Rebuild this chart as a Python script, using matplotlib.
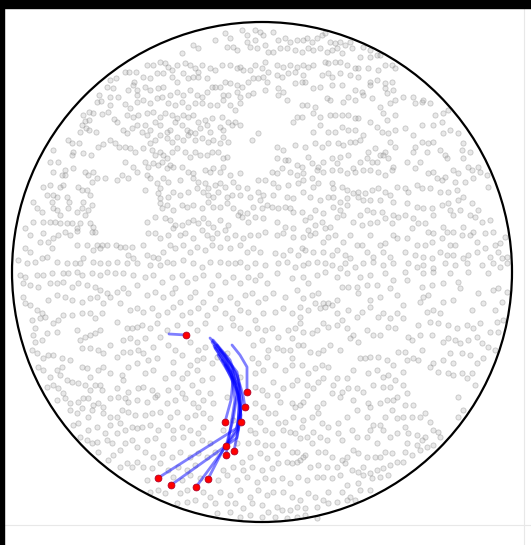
import matplotlib
matplotlib.use("Agg")
import matplotlib.pyplot as plt
from matplotlib.patches import Circle, Rectangle
import numpy as np

# %% Data (image pixel units, y grows downward)
circle_center = (262, 272)
circle_radius = 250

# background particles, read tile by tile
bg_upper_left = [
    (125,72),(129,72),(136,72),(110,80),(116,78),(134,82),(107,87),(113,88),(133,85),(137,90),
    (99,95),(110,97),(118,97),(128,90),(137,95),(97,102),(101,101),(110,105),(125,104),(130,108),
    (137,102),(89,112),(93,113),(102,114),(108,112),(114,119),(117,122),(127,115),(133,117),(138,115),
    (83,115),(85,121),(82,125),(89,120),(80,132),(86,128),(89,130),(96,132),(123,130),(127,133),
    (132,128),(137,125),(68,140),(72,143),(79,143),(98,147),(103,144),(110,140),(115,143),(119,147),
    (125,147),(130,148),(135,152),(73,152),(72,155),(83,153),(91,155),(53,150),(58,162),(50,162),
    (65,170),(62,175),(65,175),(53,172),(73,168),(85,172),(88,175),(93,172),(97,178),(92,182),
    (105,178),(117,180),(122,175),(128,178),(137,172),(50,185),(43,187),(47,195),(53,195),(60,187),
    (63,185),(57,197),(52,202),(67,197),(69,202),(78,187),(82,190),(87,190),(90,195),(83,202),
    (82,208),(88,210),(92,205),(77,212),(85,215),(53,208),(57,210),(60,215),(68,208),(37,208),
    (42,212),(33,222),(43,222),(50,222),(55,222),(60,223),(67,223),(72,223),(77,228),(80,223),
    (77,231),(90,223),(93,227),(92,232),(95,232),(43,233),(40,242),(48,242),(53,238),(58,235),
    (65,232),(70,235),(77,245),(87,245),(97,245),(102,245),(107,245),(116,245),(120,247),(125,247),
    (132,247),(128,255),(133,258),(93,250),(100,248),(30,252),(35,262),(42,258),(47,257),(52,248),
    (57,262),(67,263),(75,263),(80,263),(83,258),(93,262),(100,263),(108,263),(117,262),(127,263),
    (137,263),(27,263),(18,260),(25,248),(125,162),(133,167),(25,228),(33,202),(30,235),
]
bg_upper_mid = [
    (215,40),(225,33),(230,38),(242,30),(247,35),(255,30),(260,32),(263,35),(227,47),(233,47),
    (237,50),(247,42),(250,47),(255,40),(257,48),(265,45),(268,52),(193,45),(198,48),(182,53),
    (147,65),(153,65),(160,62),(165,63),(168,67),(172,70),(177,65),(185,63),(190,65),(195,68),
    (198,72),(202,65),(210,68),(215,70),(222,65),(230,65),(237,68),(240,67),(243,70),(250,70),
    (255,65),(262,68),(265,62),(268,72),(143,77),(150,78),(157,73),(163,73),(172,77),(177,82),
    (183,73),(188,78),(193,77),(198,77),(207,78),(212,87),(215,87),(220,87),(225,82),(230,83),
    (237,85),(242,87),(248,82),(253,78),(258,78),(263,77),(267,82),(145,87),(150,90),(158,88),
    (163,87),(170,95),(177,92),(183,95),(190,90),(197,95),(202,97),(207,92),(223,95),(228,95),
    (237,92),(240,97),(248,95),(253,93),(265,90),(143,100),(150,103),(157,98),(162,97),(168,103),
    (175,105),(182,102),(188,107),(195,103),(202,103),(210,105),(217,105),(223,100),(230,105),(235,110),
    (240,103),(147,113),(153,112),(160,117),(165,113),(172,115),(177,118),(183,115),(188,117),(193,115),
    (198,122),(205,120),(212,118),(222,117),(228,122),(235,122),(240,125),(145,125),(150,130),(155,122),
    (160,125),(167,132),(170,130),(175,122),(182,125),(187,130),(190,132),(195,133),(200,128),(207,125),
    (210,132),(220,127),(223,130),(232,125),(142,132),(147,135),(150,143),(155,140),(160,135),(167,138),
    (172,142),(177,137),(183,140),(188,135),(195,140),(202,138),(208,142),(213,140),(220,143),(223,137),
    (228,142),(258,133),(252,140),(143,148),(152,150),(155,155),(160,152),(163,155),(167,158),(172,152),
    (177,148),(185,152),(190,157),(195,152),(200,155),(207,155),(212,152),(218,152),(223,158),(227,157),
    (145,162),(148,167),(153,163),(158,165),(162,162),(167,168),(170,165),(173,167),(182,167),(188,172),
    (193,173),(205,170),(210,172),(213,168),(220,172),(223,167),(230,175),(240,173),(147,175),(150,178),
    (157,183),(160,188),(163,178),(168,182),(180,180),(193,178),(198,182),(205,183),(208,188),(215,185),
    (220,183),(225,187),(233,182),(238,187),(247,188),(258,180),(265,180),(145,190),(158,193),(160,198),
    (168,197),(173,192),(180,195),(188,192),(197,188),(203,192),(208,195),(213,197),(218,192),(227,197),
    (232,195),(240,195),(250,197),(258,192),(263,195),(260,200),(160,203),(162,208),(167,205),(173,210),
    (182,205),(187,207),(193,205),(202,208),(208,202),(213,207),(220,207),(227,203),(233,208),(240,212),
    (247,213),(253,207),(262,208),(267,205),(147,222),(155,217),(165,218),(170,220),(175,225),(182,225),
    (188,222),(193,220),(198,223),(203,218),(208,223),(213,227),(220,220),(228,225),(238,215),(242,217),
    (248,222),(255,217),(263,218),(148,233),(155,233),(160,238),(168,235),(173,228),(180,235),(185,233),
    (193,238),(202,230),(207,235),(212,238),(217,233),(225,230),(227,238),(235,235),(243,238),(250,235),
    (258,235),(265,232),(143,245),(147,255),(153,257),(158,258),(163,252),(170,245),(175,248),(183,245),
    (190,252),(197,247),(205,250),(212,245),(220,247),(230,248),(240,245),(247,252),(253,248),(260,252),
    (150,265),(160,265),(167,262),(173,263),(183,260),(193,263),(202,267),(210,262),(220,262),(228,263),
    (235,263),(240,262),(247,267),(255,263),(265,265),
]
bg_upper_right = [
    (273,32),(278,40),(285,38),(290,42),(297,40),(303,40),(307,38),(312,42),(317,38),(322,35),
    (325,33),(330,42),(335,43),(340,42),(345,45),(350,42),(363,47),(370,50),(377,55),(273,52),
    (280,48),(287,48),(295,50),(302,52),(308,48),(313,50),(320,48),(327,52),(332,50),(337,48),
    (342,53),(352,48),(360,57),(370,57),(380,55),(277,65),(283,67),(290,65),(297,67),(303,65),
    (308,67),(313,65),(325,62),(328,63),(335,62),(340,62),(347,65),(355,68),(358,68),(368,68),
    (378,70),(385,65),(392,65),(395,68),(277,75),(282,77),(288,73),(295,72),(303,75),(322,75),
    (328,73),(332,77),(340,73),(350,75),(358,77),(370,82),(377,80),(385,83),(392,82),(278,88),
    (283,92),(295,83),(302,82),(305,82),(313,88),(320,87),(332,85),(342,85),(355,90),(362,92),
    (370,85),(385,88),(387,93),(393,90),(278,95),(287,100),(302,105),(307,105),(315,107),(327,98),
    (330,100),(343,102),(348,97),(355,100),(363,95),(372,98),(380,107),(390,103),(395,100),(293,122),
    (297,117),(302,117),(313,113),(320,117),(330,115),(335,115),(342,115),(348,115),(355,118),(358,118),
    (370,122),(383,113),(387,120),(395,115),(313,132),(320,125),(328,132),(335,132),(342,127),(348,130),
    (355,130),(363,135),(377,127),(382,132),(388,133),(395,130),(277,147),(283,150),(295,145),(305,147),
    (315,143),(322,147),(328,143),(338,143),(343,145),(350,142),(355,142),(360,140),(368,152),(375,148),
    (380,155),(385,152),(390,142),(395,147),(277,158),(285,160),(288,160),(297,165),(302,167),(308,157),
    (312,163),(318,167),(323,162),(332,158),(337,163),(340,157),(348,155),(353,168),(360,162),(367,158),
    (372,162),(377,162),(383,155),(388,158),(393,167),(272,172),(277,173),(282,168),(290,172),(297,175),
    (303,173),(312,178),(317,170),(323,172),(332,170),(340,170),(347,173),(355,172),(363,170),(370,170),
    (378,172),(385,175),(392,170),(273,183),(278,187),(288,185),(298,183),(303,180),(313,187),(318,183),
    (332,183),(333,188),(342,187),(347,190),(353,193),(358,192),(365,193),(372,190),(378,188),(385,192),
    (390,195),(397,187),(273,195),(287,197),(293,198),(303,192),(310,197),(320,200),(328,197),(333,197),
    (340,202),(347,198),(358,197),(363,200),(370,200),(380,200),(393,202),(272,207),(278,208),(285,207),
    (290,208),(293,212),(302,212),(310,217),(315,210),(323,213),(333,207),(340,210),(347,205),(360,215),
    (367,210),(373,212),(382,212),(393,215),(398,217),(277,222),(285,227),(293,228),(305,220),(308,230),
    (315,225),(322,222),(325,228),(330,227),(337,217),(343,215),(353,222),(362,225),(370,223),(377,222),
    (385,218),(392,223),(277,235),(283,233),(293,237),(303,237),(310,235),(315,233),(323,242),(328,237),
    (335,235),(343,242),(350,235),(357,245),(362,245),(370,235),(380,245),(385,243),(393,235),(397,238),
    (275,253),(283,255),(290,250),(298,255),(302,248),(305,250),(313,252),(323,252),(332,255),(337,250),
    (345,255),(350,258),(367,252),(373,257),(383,252),(390,257),(278,263),(287,262),(295,267),(303,265),
    (308,263),(317,262),(325,263),(332,265),(340,268),(345,263),(355,267),(363,263),(373,262),(383,265),
    (393,263),
]
bg_far_right_top = [
    (403,97),(413,97),(415,103),(422,102),(423,100),(430,103),(435,115),(443,113),(448,110),(405,128),
    (413,135),(422,125),(433,125),(442,122),(443,133),(450,130),(458,133),(463,143),(415,147),(422,142),
    (428,143),(433,142),(413,152),(427,152),(440,150),(445,155),(447,158),(462,150),(470,152),(463,158),
    (468,167),(472,170),(478,167),(480,172),(407,162),(415,168),(420,162),(428,173),(433,172),(437,178),
    (442,180),(445,177),(453,170),(458,173),(465,182),(455,182),(473,178),(487,175),(488,187),(405,188),
    (408,192),(417,185),(422,188),(430,188),(440,192),(448,192),(457,190),(458,200),(448,203),(463,197),
    (472,203),(478,210),(407,203),(417,207),(423,208),(432,208),(433,215),(442,205),(450,210),(453,215),
    (460,210),(470,215),(475,217),(482,222),(490,220),(405,215),(413,218),(418,223),(425,223),(412,228),
    (428,232),(433,233),(443,227),(447,232),(453,232),(463,227),(473,232),(485,233),(493,232),(407,238),
    (417,245),(425,245),(432,242),(442,238),(450,245),(455,245),(462,235),(470,235),(477,242),(485,248),
    (495,245),(500,243),(505,237),(405,252),(415,255),(423,257),(432,258),(440,252),(447,255),(453,255),
    (463,258),(468,255),(477,252),(490,257),(498,252),(502,258),(507,257),(408,263),(417,267),(423,265),
    (433,268),(445,263),(455,265),(467,263),(482,265),(493,263),(500,267),(507,263),
]
bg_lower_left = [
    (20,275),(25,277),(37,275),(43,275),(52,273),(63,273),(68,273),(77,272),(82,275),(92,273),
    (100,275),(107,272),(115,273),(123,273),(133,275),(23,283),(30,285),(38,287),(50,283),(57,283),
    (63,282),(72,287),(78,283),(87,285),(95,287),(100,290),(107,293),(117,292),(123,288),(128,293),
    (137,285),(23,297),(25,303),(30,305),(37,310),(42,313),(48,300),(57,295),(65,297),(72,300),
    (82,302),(90,298),(97,297),(103,303),(110,297),(120,303),(130,310),(137,308),(32,320),(35,328),
    (40,318),(45,317),(53,323),(58,320),(63,315),(72,315),(77,330),(82,313),(90,313),(95,318),
    (102,313),(117,322),(127,328),(132,328),(137,327),(33,335),(35,342),(42,340),(47,333),(57,332),
    (80,340),(85,337),(90,335),(95,333),(100,330),(110,345),(123,340),(130,338),(137,342),(32,350),
    (37,353),(43,358),(48,355),(53,355),(62,358),(70,360),(82,348),(90,348),(98,350),(103,353),
    (117,357),(123,352),(130,352),(138,350),(38,367),(43,370),(50,377),(57,370),(62,367),(60,375),
    (67,380),(82,367),(87,368),(90,377),(98,370),(103,367),(110,373),(122,375),(128,367),(137,363),
    (47,387),(53,385),(58,388),(63,393),(72,382),(78,383),(85,385),(90,390),(95,385),(100,385),
    (102,390),(117,388),(123,380),(128,392),(138,388),(57,400),(65,398),(70,403),(78,402),(83,398),
    (88,398),(93,405),(98,403),(103,407),(110,398),(118,397),(125,398),(128,402),(137,400),(70,410),
    (77,413),(82,408),(88,417),(92,410),(103,413),(110,417),(117,417),(122,410),(128,412),(135,415),
    (73,425),(78,423),(88,430),(97,427),(105,433),(110,425),(117,433),(120,423),(125,430),(132,427),
    (137,428),(80,437),(87,440),(92,443),(97,442),(107,440),(112,443),(120,450),(125,443),(132,440),
    (137,447),(98,452),(108,460),(113,455),(120,467),(127,463),(132,467),(137,462),
]
bg_lower_mid = [
    (145,277),(153,275),(162,282),(172,277),(175,288),(182,275),(187,282),(195,278),(203,275),(212,285),
    (218,275),(225,282),(233,277),(240,283),(248,277),(255,280),(260,275),(267,283),(147,295),(155,292),
    (163,297),(172,293),(180,302),(190,297),(195,292),(203,302),(210,293),(220,300),(230,297),(237,303),
    (245,295),(252,293),(258,302),(265,298),(143,312),(152,308),(158,315),(167,312),(173,307),(182,315),
    (190,312),(198,308),(207,315),(215,308),(225,313),(232,318),(240,310),(248,312),(255,320),(263,313),
    (142,325),(150,328),(157,323),(167,330),(177,325),(190,323),(197,330),(205,323),(220,328),(233,325),
    (240,328),(248,333),(257,328),(265,330),(145,338),(153,347),(160,337),(168,345),(175,350),(190,342),
    (198,350),(205,347),(253,345),(262,340),(268,350),(143,353),(148,360),(157,358),(173,362),(182,355),
    (190,365),(197,360),(203,358),(212,363),(252,358),(258,363),(267,357),(145,373),(153,370),(165,378),
    (173,373),(182,378),(187,373),(197,370),(202,380),(212,378),(255,373),(263,370),(143,387),(152,390),
    (157,395),(168,390),(177,387),(182,393),(192,385),(198,392),(210,393),(255,387),(262,390),(267,395),
    (147,402),(155,397),(167,403),(175,400),(185,398),(193,403),(198,407),(203,400),(213,403),(255,403),
    (263,407),(145,415),(152,413),(160,412),(170,417),(177,412),(187,417),(195,415),(203,413),(210,418),
    (255,417),(260,422),(268,413),(142,427),(150,425),(158,430),(167,425),(173,430),(182,427),(190,430),
    (198,433),(203,427),(250,430),(255,433),(265,430),(147,440),(155,438),(163,445),(173,438),(183,437),
    (192,443),(202,440),(210,443),(248,443),(257,442),(265,445),(145,452),(153,457),(162,453),(172,457),
    (180,452),(190,457),(198,453),(207,457),(215,452),(242,462),(250,457),(260,453),(267,458),(143,467),
    (152,468),(160,463),(168,470),(178,467),(187,470),(195,465),(223,470),(233,467),(243,470),(252,467),
    (262,470),(147,480),(173,477),(182,480),(190,475),(200,478),(218,480),(227,475),(237,480),(247,477),
    (257,482),(265,478),(150,492),(158,490),(165,493),(180,493),(187,490),(203,492),(210,497),(220,492),
    (230,495),(240,490),(250,497),(258,490),(267,495),(177,503),(187,502),(195,500),(205,505),(215,503),
    (227,503),(235,503),(243,508),(252,503),(262,505),(217,513),(230,512),(240,517),(250,515),(262,517),
    (268,512),(217,357),(227,353),(240,377),(227,397),(233,420),(223,430),(237,443),
]
bg_lower_right = [
    (277,273),(292,278),(303,277),(308,283),(317,275),(325,272),(337,277),(347,273),(360,277),(370,275),
    (377,285),(385,273),(393,280),(273,293),(285,297),(297,290),(303,298),(312,295),(318,293),(323,303),
    (328,303),(337,300),(342,287),(348,287),(357,287),(358,293),(367,285),(370,300),(380,297),(390,288),
    (397,295),(275,312),(283,308),(292,313),(300,307),(300,317),(300,323),(308,310),(315,303),(320,308),
    (325,307),(332,305),(337,313),(342,320),(348,310),(357,317),(362,312),(370,307),(378,317),(383,313),
    (390,318),(397,313),(272,328),(278,337),(288,330),(292,338),(295,328),(303,332),(312,333),(317,330),
    (323,323),(328,327),(337,325),(347,328),(353,335),(358,342),(367,330),(373,335),(380,335),(388,327),
    (395,328),(277,348),(283,350),(290,350),(292,358),(298,345),(303,345),(310,352),(318,353),(323,350),
    (330,345),(340,350),(350,338),(360,358),(365,358),(370,357),(378,357),(387,360),(393,365),(398,352),
    (275,365),(285,370),(292,365),(302,365),(308,373),(315,368),(322,365),(328,367),(337,378),(347,378),
    (353,370),(368,373),(377,370),(383,377),(388,375),(395,380),(273,382),(283,388),(292,385),(297,380),
    (307,385),(313,388),(318,382),(323,378),(333,385),(342,392),(348,388),(357,388),(363,392),(373,385),
    (383,387),(390,387),(397,397),(277,395),(280,402),(292,403),(295,407),(300,405),(303,402),(307,395),
    (317,407),(323,403),(332,393),(340,397),(353,400),(368,403),(370,407),(380,403),(387,400),(393,400),
    (275,413),(278,423),(285,422),(293,417),(302,427),(303,420),(312,417),(318,413),(322,423),(328,427),
    (338,423),(347,417),(357,410),(367,417),(373,425),(380,425),(385,417),(392,410),(397,418),(272,433),
    (283,430),(290,432),(295,433),(300,438),(307,437),(313,432),(320,437),(327,440),(338,433),(342,440),
    (352,430),(357,437),(367,437),(370,430),(377,443),(383,430),(390,437),(397,433),(272,445),(277,453),
    (283,445),(292,452),(297,452),(300,460),(305,455),(312,443),(318,452),(325,452),(332,457),(342,460),
    (347,457),(353,450),(358,453),(367,457),(375,457),(380,457),(385,452),(392,453),(272,468),(278,463),
    (287,462),(292,463),(297,462),(303,457),(310,467),(318,465),(327,467),(337,467),(345,463),(352,470),
    (358,472),(363,467),(370,473),(377,470),(383,468),(390,465),(397,462),(273,480),(282,478),(290,483),
    (298,477),(307,480),(317,477),(323,477),(332,478),(340,475),(347,485),(358,483),(363,475),(372,478),
    (380,477),(388,475),(273,492),(283,492),(292,497),(300,500),(308,493),(315,497),(323,500),(328,492),
    (342,492),(350,497),(355,500),(360,490),(370,490),(277,507),(282,510),(290,510),(297,507),(305,508),
    (317,507),(328,503),(337,502),(347,500),(275,517),(287,518),(297,517),(305,515),(317,518),
]
bg_far_right_bottom = [
    (405,272),(423,273),(433,272),(450,273),(468,272),(488,273),(407,280),(422,287),(428,295),(432,285),
    (443,283),(458,282),(460,288),(478,293),(493,290),(498,288),(507,292),(403,305),(420,302),(423,297),
    (427,312),(433,310),(440,313),(443,302),(453,300),(472,310),(483,303),(495,310),(502,302),(503,320),
    (403,318),(418,325),(430,322),(438,323),(448,325),(457,328),(467,325),(473,328),(480,323),(490,332),
    (497,322),(498,332),(408,337),(412,340),(420,335),(432,335),(443,342),(448,338),(455,340),(460,343),
    (468,340),(477,337),(482,343),(488,347),(495,350),(405,352),(407,360),(413,358),(418,360),(422,350),
    (430,367),(433,363),(443,360),(450,353),(453,363),(462,353),(470,355),(477,363),(483,358),(403,372),
    (438,372),(448,373),(453,375),(462,373),(467,378),(472,373),(475,385),(403,385),(407,393),(405,405),
    (413,405),(458,397),(463,410),(458,417),(403,417),(412,417),(420,417),(425,413),(430,422),(433,430),
    (438,432),(405,427),(408,433),(417,435),(425,437),(440,437),(407,443),(417,445),(422,440),(427,447),
    (433,445),(405,452),(412,455),(420,450),(403,462),
]

# agent tracks, oldest point first, the last point is the current position
tracks = [
    [(169,334),(186,335)],
    [(232,345),(240,355),(247,367),(247,392)],
    [(210,338),(225,355),(237,375),(243,395),(245,407)],
    [(212,342),(226,360),(233,380),(231,400),(225,422)],
    [(213,340),(230,360),(239,385),(241,422)],
    [(217,345),(232,368),(237,395),(233,420),(226,446)],
    [(220,350),(237,372),(242,400),(239,425),(234,451)],
    [(215,348),(231,372),(235,400),(231,425),(226,455)],
    [(222,360),(238,385),(241,410),(236,430),(224,448),(208,479)],
    [(214,346),(234,375),(240,405),(237,428),(158,478)],
    [(218,355),(236,385),(241,415),(237,438),(171,485)],
    [(225,365),(239,395),(238,430),(196,487)],
]

# %% Figure
W, H = 531, 545
fig = plt.figure(figsize=(W / 100, H / 100), dpi=100)
fig.patch.set_facecolor("white")
ax = fig.add_axes([0, 0, 1, 1])
ax.set_xlim(0, W)
ax.set_ylim(H, 0)
ax.axis("off")

bg = np.array(bg_upper_left + bg_upper_mid + bg_upper_right + bg_far_right_top
              + bg_lower_left + bg_lower_mid + bg_lower_right + bg_far_right_bottom)
ax.scatter(bg[:, 0], bg[:, 1], s=14, facecolors=(0.6, 0.6, 0.6, 0.22),
           edgecolors=(0.5, 0.5, 0.5, 0.4), linewidths=0.6, zorder=1)

for tr in tracks:
    tr = np.array(tr)
    ax.plot(tr[:, 0], tr[:, 1], color="blue", alpha=0.5, lw=2.0,
            solid_capstyle="round", zorder=2)
heads = np.array([tr[-1] for tr in tracks])
ax.scatter(heads[:, 0], heads[:, 1], s=24, color="red", edgecolors="#b0002a",
           linewidths=0.6, zorder=3)

ax.add_patch(Circle(circle_center, circle_radius, fill=False, ec="black", lw=1.6, zorder=4))

# screenshot frame: black bands top/left, faint border right/bottom
fig.add_artist(Rectangle((0, 1 - 8 / H), 1, 8 / H, transform=fig.transFigure, color="black", zorder=10))
fig.add_artist(Rectangle((0, 0), 4 / W, 1, transform=fig.transFigure, color="black", zorder=10))
fig.add_artist(plt.Line2D([524 / W, 524 / W], [0, 1 - 8 / H], transform=fig.transFigure, color="#e8e8e8", lw=0.8))
fig.add_artist(plt.Line2D([4 / W, 1], [1 - 525 / H, 1 - 525 / H], transform=fig.transFigure, color="#e8e8e8", lw=0.8))

fig.savefig("out.png", dpi=100)
